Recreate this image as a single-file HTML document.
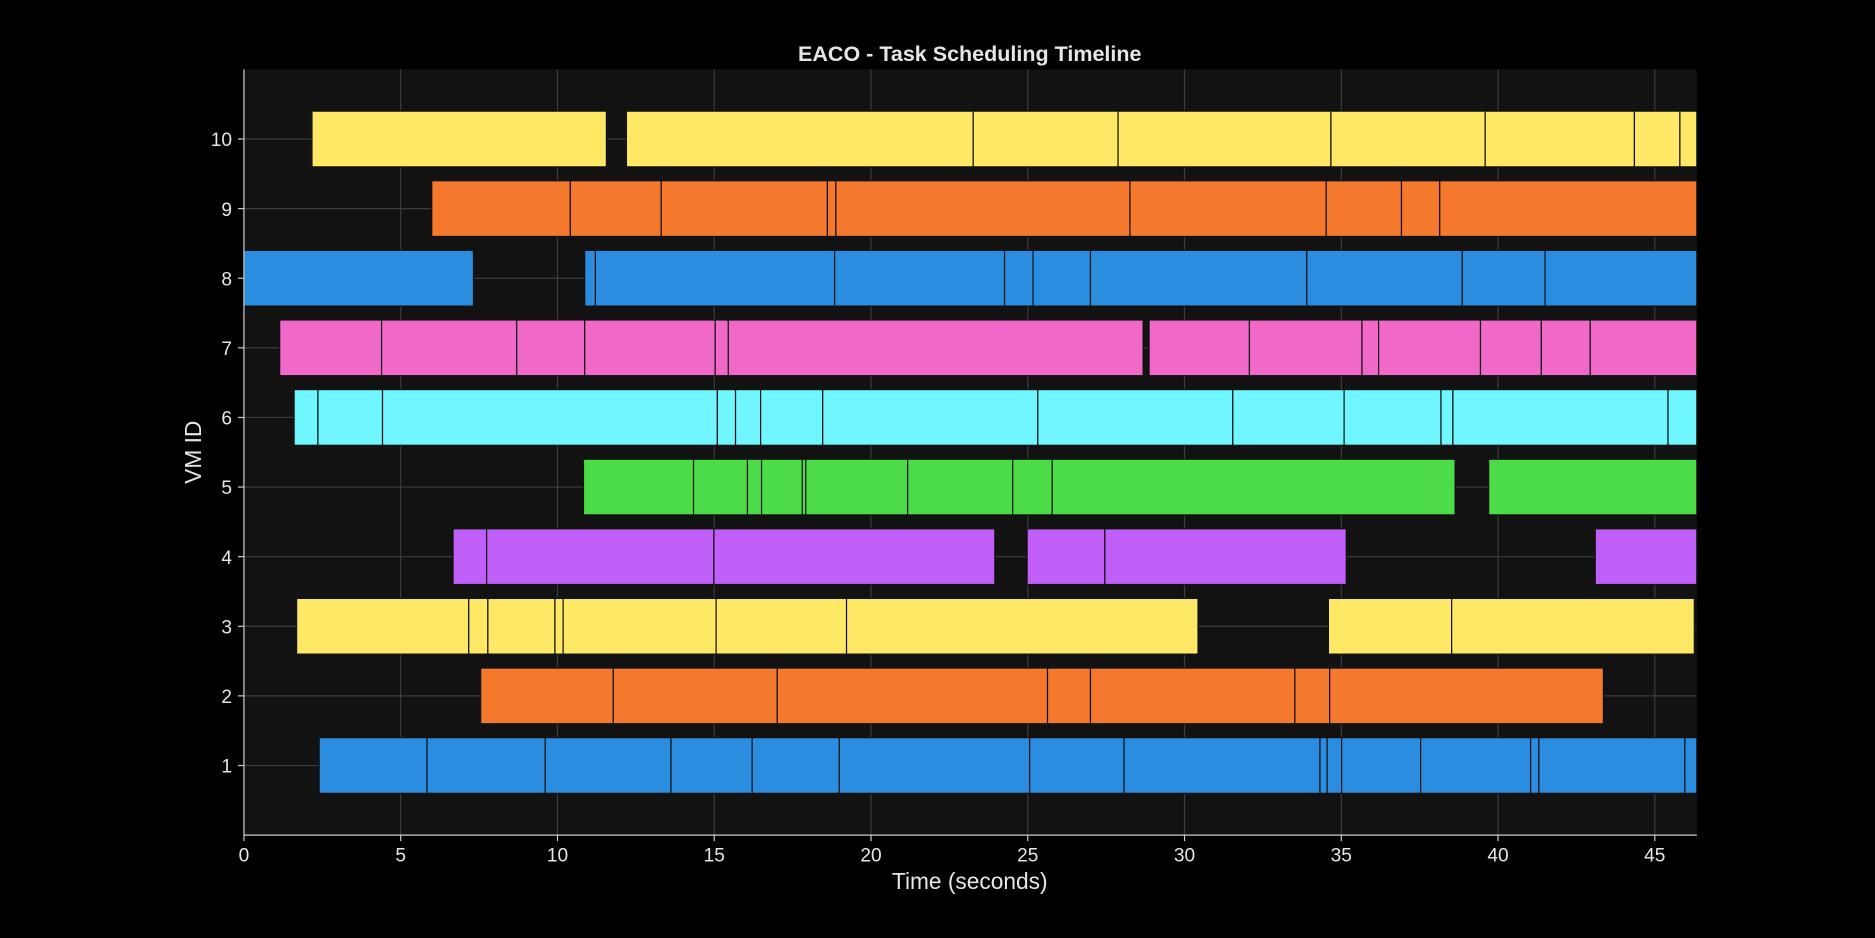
<!DOCTYPE html>
<html><head><meta charset="utf-8"><style>
html,body{margin:0;padding:0;background:#000;}
svg{display:block;font-family:"Liberation Sans",sans-serif;}
</style></head><body>
<svg id="chart" width="1875" height="938" viewBox="0 0 1568 784" preserveAspectRatio="none" xmlns="http://www.w3.org/2000/svg">
<rect width="1568" height="784" fill="#000"/>
<rect x="204" y="58" width="1215" height="640" fill="#121212"/>
<g id="grid"></g>
<g id="bars"></g>
<g id="axes"></g>
<text x="811" y="51" text-anchor="middle" fill="#e6e6e6" font-size="18" font-weight="bold">EACO - Task Scheduling Timeline</text>
<text x="811" y="743" text-anchor="middle" fill="#e6e6e6" font-size="19">Time (seconds)</text>
<text x="168" y="378" text-anchor="middle" fill="#e6e6e6" font-size="19" transform="rotate(-90 168 378)">VM ID</text>
</svg>
<script>
const vmIds = [1,2,3,4,5,6,7,8,9,10];
const vmColors = ['#2a8de0','#f5792c','#ffe866','#c05ef8','#4bdc48','#6ff6ff','#f068c8','#2a8de0','#f5792c','#ffe866'];
const xTicks = [0,5,10,15,20,25,30,35,40,45];
const vm1 = [[2.4,5.84,9.61,13.62,16.21,18.99,25.06,28.07,34.32,34.55,35.01,37.53,41.04,41.3,45.96,46.4]];
const vm2 = [[7.55,11.78,17.01,25.63,27.0,33.52,34.63,43.36]];
const vm3 = [[1.68,7.17,7.78,9.92,10.18,15.06,19.22,30.43],[34.59,38.52,46.26]];
const vm4 = [[6.67,7.74,14.99,23.95],[24.98,27.46,35.16],[43.1,46.4]];
const vm5 = [[10.83,14.34,16.06,16.51,17.81,17.92,21.17,24.52,25.78,38.63],[39.7,46.4]];
const vm6 = [[1.6,2.36,4.42,15.1,15.68,16.48,18.46,25.32,31.54,35.09,38.18,38.56,45.42,46.4]];
const vm7 = [[1.14,4.39,8.7,10.87,15.03,15.45,28.68],[28.87,32.07,35.66,36.19,39.44,41.38,42.94,46.4]];
const vm8 = [[0,7.32],[10.87,11.21,18.84,24.26,25.17,27.0,33.9,38.86,41.5,46.4]];
const vm9 = [[5.99,10.41,13.31,18.61,18.88,28.26,34.52,36.92,38.14,46.4]];
const vm10 = [[2.17,11.56],[12.2,23.26,27.88,34.67,39.59,44.35,45.8,46.4]];
const vmBlocks = [vm1,vm2,vm3,vm4,vm5,vm6,vm7,vm8,vm9,vm10];

const X0=204,X1=1419,Y0=698,Y1=58,XMAX=46.34,YMAX=11;
const xs=t=>X0+(Math.min(t,XMAX))/XMAX*(X1-X0);
const ys=v=>Y0-v/YMAX*(Y0-Y1);
const NS='http://www.w3.org/2000/svg';
function mk(tag,attrs,parent){const e=document.createElementNS(NS,tag);for(const k in attrs)e.setAttribute(k,attrs[k]);parent.appendChild(e);return e;}
const grid=document.getElementById('grid'),bars=document.getElementById('bars'),axes=document.getElementById('axes');
xTicks.forEach(t=>{
  const l=mk('line',{x1:xs(t),x2:xs(t),y1:Y1,y2:Y0,stroke:'#3c3c3c','stroke-width':1},grid);
  
  
  const tk=mk('line',{x1:xs(t),x2:xs(t),y1:Y0,y2:Y0+5,stroke:'#ccc'},axes);
  
  
  const tx=mk('text',{x:xs(t),y:Y0+22,'text-anchor':'middle',fill:'#e6e6e6','font-size':16},axes);
  tx.textContent=t;
  
  
});
vmIds.forEach(v=>{
  const l=mk('line',{x1:X0,x2:X1,y1:ys(v),y2:ys(v),stroke:'#3c3c3c','stroke-width':1},grid);
  
  
  const tk=mk('line',{x1:X0-5,x2:X0,y1:ys(v),y2:ys(v),stroke:'#ccc'},axes);
  
  
  const tx=mk('text',{x:X0-10,y:ys(v)+6,'text-anchor':'end',fill:'#e6e6e6','font-size':16},axes);
  tx.textContent=v;
  
  
});
const h=0.8*(ys(0)-ys(1));
vmBlocks.forEach((blocks,i)=>{
  const v=vmIds[i],yc=ys(v);
  blocks.forEach(b=>{
    for(let k=0;k<b.length-1;k++){
      const r=mk('rect',{x:xs(b[k]),y:yc-h/2,width:Math.max(0,xs(b[k+1])-xs(b[k])),height:h,fill:vmColors[i],stroke:'#111','stroke-width':1},bars);
      
      
    }
  });
});
const sl=mk('line',{x1:X0,x2:X0,y1:Y1,y2:Y0,stroke:'#ccc'},axes);


const sb=mk('line',{x1:X0,x2:X1,y1:Y0,y2:Y0,stroke:'#ccc'},axes);


</script>
</body></html>
